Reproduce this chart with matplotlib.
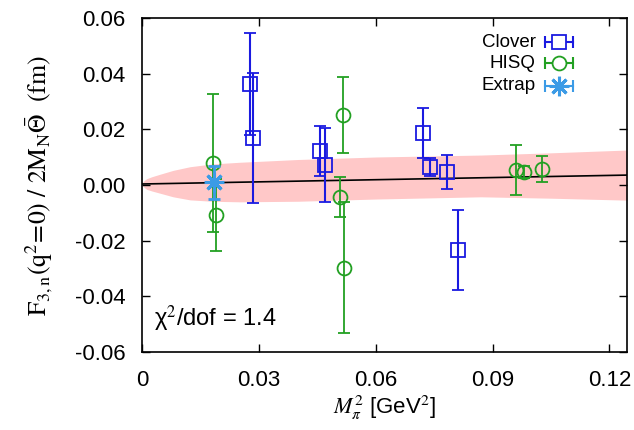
import matplotlib
matplotlib.use("Agg")
import matplotlib.pyplot as plt
import numpy as np

plt.rcParams['font.family'] = ['Liberation Sans', 'DejaVu Sans']
plt.rcParams['mathtext.fontset'] = 'stix'

# Clover ensembles
clover_x = [0.0277, 0.0285, 0.0456, 0.0469, 0.0720, 0.0738, 0.0782, 0.0810]
clover_y = [0.0363, 0.0169, 0.0122, 0.0072, 0.0187, 0.0065, 0.0047, -0.0234]
clover_err = [0.0184, 0.0232, 0.0090, 0.0133, 0.0090, 0.0032, 0.0061, 0.0144]

# HISQ ensembles
hisq_x = [0.0182, 0.0190, 0.0516, 0.0508, 0.0518, 0.0959, 0.0980, 0.1028]
hisq_y = [0.0079, -0.0108, 0.0252, -0.0043, -0.0296, 0.0054, 0.0047, 0.0058]
hisq_err = [0.0248, 0.0130, 0.0137, 0.0072, 0.0236, 0.0090, 0.0020, 0.0047]

# chiral extrapolation at the physical pion mass
extrap_x = [0.0185]
extrap_y = [0.0010]
extrap_err = [0.0060]

# fit line and its error band
fit_x = [0.0, 0.1245]
fit_y = [0.0004, 0.0036]
band_x = [0.0, 0.0002, 0.0006, 0.0012, 0.0025, 0.0046, 0.008, 0.0123, 0.018,
          0.025, 0.04, 0.06, 0.087, 0.105, 0.1245]
band_hi = [0.0004, 0.0011, 0.0017, 0.0023, 0.0030, 0.0039, 0.0053, 0.0066,
           0.0076, 0.0082, 0.0092, 0.0101, 0.0108, 0.0116, 0.0126]
band_lo = [0.0004, -0.0003, -0.0009, -0.0015, -0.0021, -0.0029, -0.0042,
           -0.0053, -0.0058, -0.0060, -0.0058, -0.0050, -0.0042, -0.0047, -0.0054]

blue = '#1a1ae0'
green = '#22a022'
lblue = '#3c9be6'
star = (8, 2, 0)

fig = plt.figure(figsize=(6.34, 4.30), dpi=100)
ax = fig.add_axes([0.224, 0.181, 0.765, 0.777])

ax.fill_between(band_x, band_lo, band_hi, color='#ffc8c8', lw=0, zorder=1)
ax.plot(fit_x, fit_y, color='black', lw=1.2, zorder=2)

ax.errorbar(clover_x, clover_y, yerr=clover_err, fmt='s', ms=10, mfc='none',
            mec=blue, mew=1.3, color=blue, ecolor=blue, elinewidth=1.5,
            capsize=4, capthick=1.5, zorder=4)
ax.errorbar(hisq_x, hisq_y, yerr=hisq_err, fmt='o', ms=10, mfc='none',
            mec=green, mew=1.3, color=green, ecolor=green, elinewidth=1.3,
            capsize=4, capthick=1.3, zorder=3)
ax.errorbar(extrap_x, extrap_y, yerr=extrap_err, fmt='none', color=lblue,
            ecolor=lblue, elinewidth=2, capsize=4, capthick=2, zorder=5)
ax.plot(extrap_x, extrap_y, marker=star, ms=14, mew=2.2, color=lblue,
        ls='none', zorder=6)

# legend drawn gnuplot style: label on the left, sample with horizontal bar
leg_labels = ['Clover', 'HISQ', 'Extrap']
leg_cols = [blue, green, lblue]
leg_marks = ['s', 'o', star]
leg_y = [0.928, 0.865, 0.797]
for lab, c, m, yy in zip(leg_labels, leg_cols, leg_marks, leg_y):
    ax.text(0.812, yy, lab, transform=ax.transAxes, ha='right', va='center',
            fontsize=13.5)
    ax.plot([0.83, 0.888], [yy, yy], transform=ax.transAxes, color=c, lw=1.5,
            marker='|', ms=8, mew=1.5, clip_on=False)
    if m == 's' or m == 'o':
        ax.plot([0.859], [yy], transform=ax.transAxes, marker=m, ms=10,
                mfc='white', mec=c, mew=1.3, clip_on=False)
    else:
        ax.plot([0.859], [yy], transform=ax.transAxes, marker=m, ms=14,
                mew=2.2, color=c, clip_on=False)

ax.text(0.025, 0.055, '\u03c7$^2$/dof = 1.4', transform=ax.transAxes,
        fontsize=17, ha='left', va='bottom')

ax.set_xlim(0, 0.1245)
ax.set_ylim(-0.06, 0.06)
ax.set_xticks([0, 0.03, 0.06, 0.09, 0.12])
ax.set_xticklabels(['0', '0.03', '0.06', '0.09', '0.12'])
ax.set_yticks([-0.06, -0.04, -0.02, 0.0, 0.02, 0.04, 0.06])
ax.set_yticklabels(['-0.06', '-0.04', '-0.02', '0.00', '0.02', '0.04', '0.06'])
ax.tick_params(direction='in', length=6, width=1, top=True, right=True,
               labelsize=16)
ax.tick_params(axis='x', pad=13)
ax.tick_params(axis='y', pad=12)
for sp in ax.spines.values():
    sp.set_linewidth(1.2)

ax.set_xlabel(r'$M_\pi^2$ [GeV$^2$]', fontsize=16, labelpad=2)
ax.set_ylabel(r'$\mathrm{F_{3,n}(q^2\!=\!0)\ /\ 2M_N\bar{\Theta}\ \ (fm)}$',
              fontsize=18.5, labelpad=14)

fig.savefig('out.png', dpi=100)
